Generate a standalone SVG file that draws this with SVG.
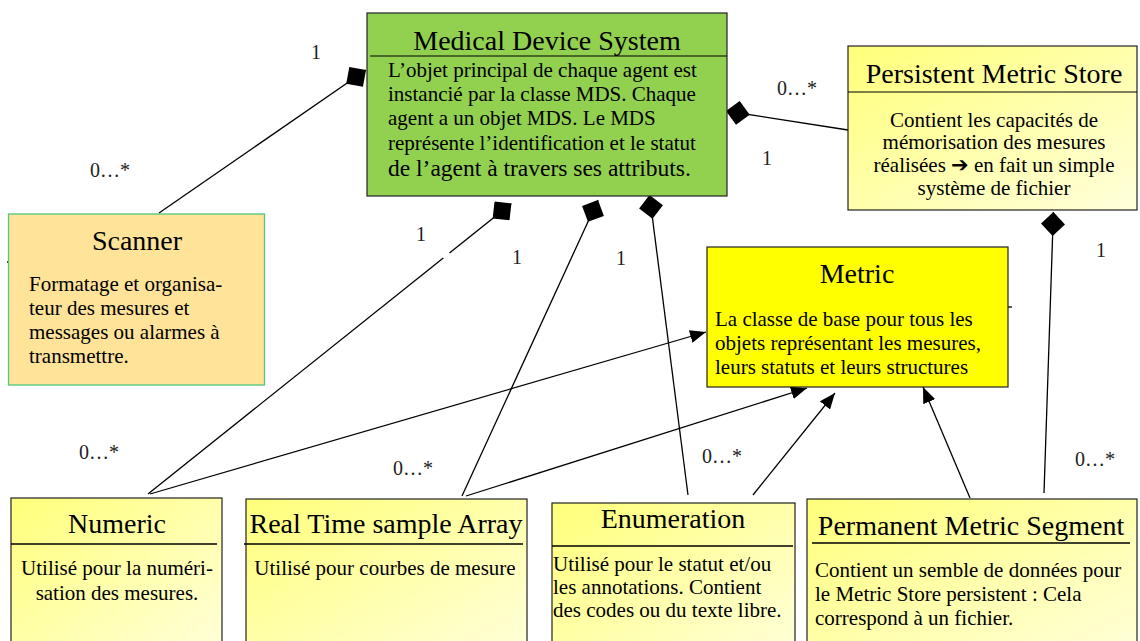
<svg xmlns="http://www.w3.org/2000/svg" width="1140" height="641" viewBox="0 0 1140 641">
<style>
text{font-family:"Liberation Serif","Times New Roman",serif;fill:#000}
.t{font-size:28px;text-anchor:middle}
.b{font-size:21px}
.c{text-anchor:middle}
.lbl{font-size:20px;fill:#222}
.box{stroke:#222;stroke-width:1.2}
.div{stroke:#000;stroke-width:1.6}
.ln{stroke:#000;stroke-width:1.3;fill:none}
.arr{marker-end:url(#tri)}
.dia{marker-start:url(#dmd)}
</style>
<defs>
<linearGradient id="ylw" x1="0" y1="0" x2="1" y2="1">
<stop offset="0" stop-color="#ffff7a"/>
<stop offset="1" stop-color="#ffffdc"/>
</linearGradient>
<marker id="tri" markerUnits="userSpaceOnUse" markerWidth="16" markerHeight="13" refX="16" refY="6.5" orient="auto" viewBox="0 0 16 13">
<path d="M0,0 L16,6.5 L0,13 z" fill="#000"/>
</marker>
<marker id="dmd" markerUnits="userSpaceOnUse" markerWidth="24" markerHeight="24" refX="0" refY="12" orient="auto" viewBox="0 0 24 24">
<path d="M0,12 L12,0 L24,12 L12,24 z" fill="#000"/>
</marker>
</defs>
<rect width="1140" height="641" fill="#fff"/>

<g id="connectors">
<line class="ln dia" x1="366" y1="70" x2="159" y2="213"/>
<line class="ln dia" x1="511.4" y1="203.5" x2="449.5" y2="253"/>
<line class="ln" x1="443.3" y1="258" x2="148" y2="494"/>
<line class="ln arr" x1="150" y1="494" x2="706" y2="332"/>
<line class="ln dia" x1="598" y1="200" x2="462" y2="496"/>
<line class="ln arr" x1="466" y1="496" x2="807" y2="388"/>
<line class="ln dia" x1="649.5" y1="195" x2="688" y2="495"/>
<line class="ln arr" x1="753" y1="495" x2="835" y2="393"/>
<line class="ln dia" x1="726" y1="111" x2="848" y2="130"/>
<line class="ln dia" x1="1053.4" y1="212" x2="1044" y2="493"/>
<line class="ln arr" x1="970" y1="498" x2="923" y2="387"/>
<line class="ln" x1="1008" y1="307" x2="1012" y2="307"/>
<line class="ln" x1="7" y1="262" x2="9" y2="262"/>
<text class="lbl" x="311" y="59">1</text>
<text class="lbl" x="90" y="177">0…*</text>
<text class="lbl" x="777" y="95">0…*</text>
<text class="lbl" x="762" y="165">1</text>
<text class="lbl" x="416" y="241">1</text>
<text class="lbl" x="512" y="264">1</text>
<text class="lbl" x="616" y="265">1</text>
<text class="lbl" x="1096" y="257">1</text>
<text class="lbl" x="79" y="459">0…*</text>
<text class="lbl" x="393" y="475">0…*</text>
<text class="lbl" x="702" y="463">0…*</text>
<text class="lbl" x="1075" y="466">0…*</text>
</g>

<g id="mds">
<rect class="box" x="367" y="13" width="360" height="183" fill="#92d050"/>
<line class="div" x1="370" y1="56" x2="727" y2="56" style="stroke-width:1.2"/>
<text class="t" x="547" y="50">Medical Device System</text>
<text class="b" x="388" y="77">L’objet principal de chaque agent est</text>
<text class="b" x="388" y="101">instancié par la classe MDS. Chaque</text>
<text class="b" x="388" y="125">agent a un objet MDS. Le MDS</text>
<text class="b" x="388" y="150">représente l’identification et le statut</text>
<text class="b" x="388" y="176" style="font-size:23.5px">de l’agent à travers ses attributs.</text>
</g>

<g id="persistent-metric-store">
<rect class="box" x="848" y="46" width="289" height="164" fill="url(#ylw)"/>
<line class="div" x1="848" y1="92" x2="1137" y2="92" style="stroke-width:1.2"/>
<text class="t" x="994" y="83">Persistent Metric Store</text>
<text class="b c" x="994" y="127">Contient les capacités de</text>
<text class="b c" x="994" y="149">mémorisation des mesures</text>
<text class="b c" x="994" y="172">réalisées <tspan style="font-family:'DejaVu Sans',sans-serif;font-size:21px;font-weight:bold">➔</tspan> en fait un simple</text>
<text class="b c" x="994" y="195">système de fichier</text>
</g>

<g id="scanner">
<rect x="8.5" y="214" width="256" height="171" fill="#fee399" stroke="#4fc67a" stroke-width="1.3"/>
<text class="t" x="137" y="250">Scanner</text>
<text class="b" x="29" y="291">Formatage et organisa-</text>
<text class="b" x="29" y="315">teur des mesures et</text>
<text class="b" x="29" y="339">messages ou alarmes à</text>
<text class="b" x="29" y="363">transmettre.</text>
</g>

<g id="metric">
<rect class="box" x="707" y="247" width="301" height="140" fill="#ffff00"/>
<text class="t" x="857" y="283">Metric</text>
<text class="b" x="715" y="326">La classe de base pour tous les</text>
<text class="b" x="715" y="350">objets représentant les mesures,</text>
<text class="b" x="715" y="374">leurs statuts et leurs structures</text>
</g>

<g id="numeric">
<rect class="box" x="11" y="498" width="211" height="160" fill="url(#ylw)"/>
<line class="div" x1="11" y1="544" x2="217" y2="544"/>
<text class="t" x="117" y="533">Numeric</text>
<text class="b c" x="117" y="575">Utilisé pour la numéri-</text>
<text class="b c" x="117" y="600">sation des mesures.</text>
</g>

<g id="real-time-sample-array">
<rect class="box" x="246" y="499" width="281" height="160" fill="url(#ylw)"/>
<line class="div" x1="244" y1="544" x2="523" y2="544"/>
<text class="t" x="386" y="533">Real Time sample Array</text>
<text class="b c" x="385" y="575">Utilisé pour courbes de mesure</text>
</g>

<g id="enumeration">
<rect class="box" x="552" y="503" width="243" height="160" fill="url(#ylw)"/>
<line class="div" x1="552" y1="546" x2="793" y2="546"/>
<text class="t" x="673" y="528">Enumeration</text>
<text class="b" x="553" y="571">Utilisé pour le statut et/ou</text>
<text class="b" x="553" y="594">les annotations. Contient</text>
<text class="b" x="553" y="617">des codes ou du texte libre.</text>
</g>

<g id="permanent-metric-segment">
<rect class="box" x="807" y="499" width="330" height="160" fill="url(#ylw)"/>
<line class="div" x1="812" y1="543" x2="1130" y2="543"/>
<text class="t" x="971" y="535">Permanent Metric Segment</text>
<text class="b" x="815" y="577">Contient un semble de données pour</text>
<text class="b" x="815" y="601">le Metric Store persistent : Cela</text>
<text class="b" x="815" y="625">correspond à un fichier.</text>
</g>
</svg>
